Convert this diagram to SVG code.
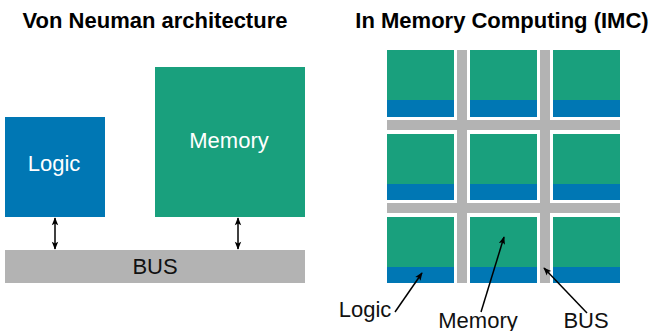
<svg xmlns="http://www.w3.org/2000/svg" width="653" height="331" viewBox="0 0 653 331">
<defs>
<style>
.g{fill:#19a07d}.b{fill:#0077b4}.bus{fill:#b3b3b3}
.t{font-family:"Liberation Sans",Arial,sans-serif}
.title{font-size:22px;font-weight:bold;fill:#000}
.wl{font-size:22px;fill:#fff}
.lab{font-size:22px;fill:#111}
.ln{stroke:#000;stroke-width:1.5;fill:none}
</style>
<marker id="ah" viewBox="0 0 10 10" refX="9" refY="5" markerWidth="9" markerHeight="8" orient="auto-start-reverse" markerUnits="userSpaceOnUse">
<path d="M0,1 L10,5 L0,9 L2,5 Z" fill="#000"/>
</marker>
</defs>
<rect width="653" height="331" fill="#fff"/>
<text class="t title" x="155" y="28" text-anchor="middle">Von Neuman architecture</text>
<text class="t title" x="502" y="28" text-anchor="middle">In Memory Computing (IMC)</text>
<g id="logic"><rect class="b" x="5" y="117" width="100" height="100"/><text class="t wl" x="54" y="171" text-anchor="middle">Logic</text></g>
<g id="memory"><rect class="g" x="155" y="67" width="150" height="150"/><text class="t wl" x="229" y="148" text-anchor="middle">Memory</text></g>
<g id="bus"><rect class="bus" x="5" y="250" width="300" height="33"/><text class="t wl" x="155" y="274" text-anchor="middle" style="fill:#111">BUS</text></g>
<g id="imc">
<rect class="bus" x="457" y="50" width="10" height="233"/>
<rect class="bus" x="540" y="50" width="10" height="233"/>
<rect class="bus" x="387" y="120" width="233" height="10"/>
<rect class="bus" x="387" y="203" width="233" height="10"/>
<rect class="g" x="387" y="50" width="67" height="67"/><rect class="b" x="387" y="100" width="67" height="17"/>
<rect class="g" x="470" y="50" width="67" height="67"/><rect class="b" x="470" y="100" width="67" height="17"/>
<rect class="g" x="553" y="50" width="67" height="67"/><rect class="b" x="553" y="100" width="67" height="17"/>
<rect class="g" x="387" y="134" width="67" height="66"/><rect class="b" x="387" y="184" width="67" height="16"/>
<rect class="g" x="470" y="134" width="67" height="66"/><rect class="b" x="470" y="184" width="67" height="16"/>
<rect class="g" x="553" y="134" width="67" height="66"/><rect class="b" x="553" y="184" width="67" height="16"/>
<rect class="g" x="387" y="217" width="67" height="66"/><rect class="b" x="387" y="267" width="67" height="16"/>
<rect class="g" x="470" y="217" width="67" height="66"/><rect class="b" x="470" y="267" width="67" height="16"/>
<rect class="g" x="553" y="217" width="67" height="66"/><rect class="b" x="553" y="267" width="67" height="16"/>
</g>
<g id="labels">
<text class="t lab" x="365" y="317" text-anchor="middle">Logic</text>
<text class="t lab" x="478" y="327.5" text-anchor="middle">Memory</text>
<text class="t lab" x="586" y="327.5" text-anchor="middle">BUS</text>
</g>
<g id="connectors">
<line class="ln" x1="55" y1="218" x2="55" y2="249" marker-start="url(#ah)" marker-end="url(#ah)"/>
<line class="ln" x1="238" y1="218" x2="238" y2="249" marker-start="url(#ah)" marker-end="url(#ah)"/>
<line class="ln" x1="395" y1="312" x2="422" y2="273" marker-end="url(#ah)"/>
<line class="ln" x1="481" y1="312" x2="504" y2="237" marker-end="url(#ah)"/>
<line class="ln" x1="587" y1="313" x2="544" y2="268" marker-end="url(#ah)"/>
</g>
</svg>
